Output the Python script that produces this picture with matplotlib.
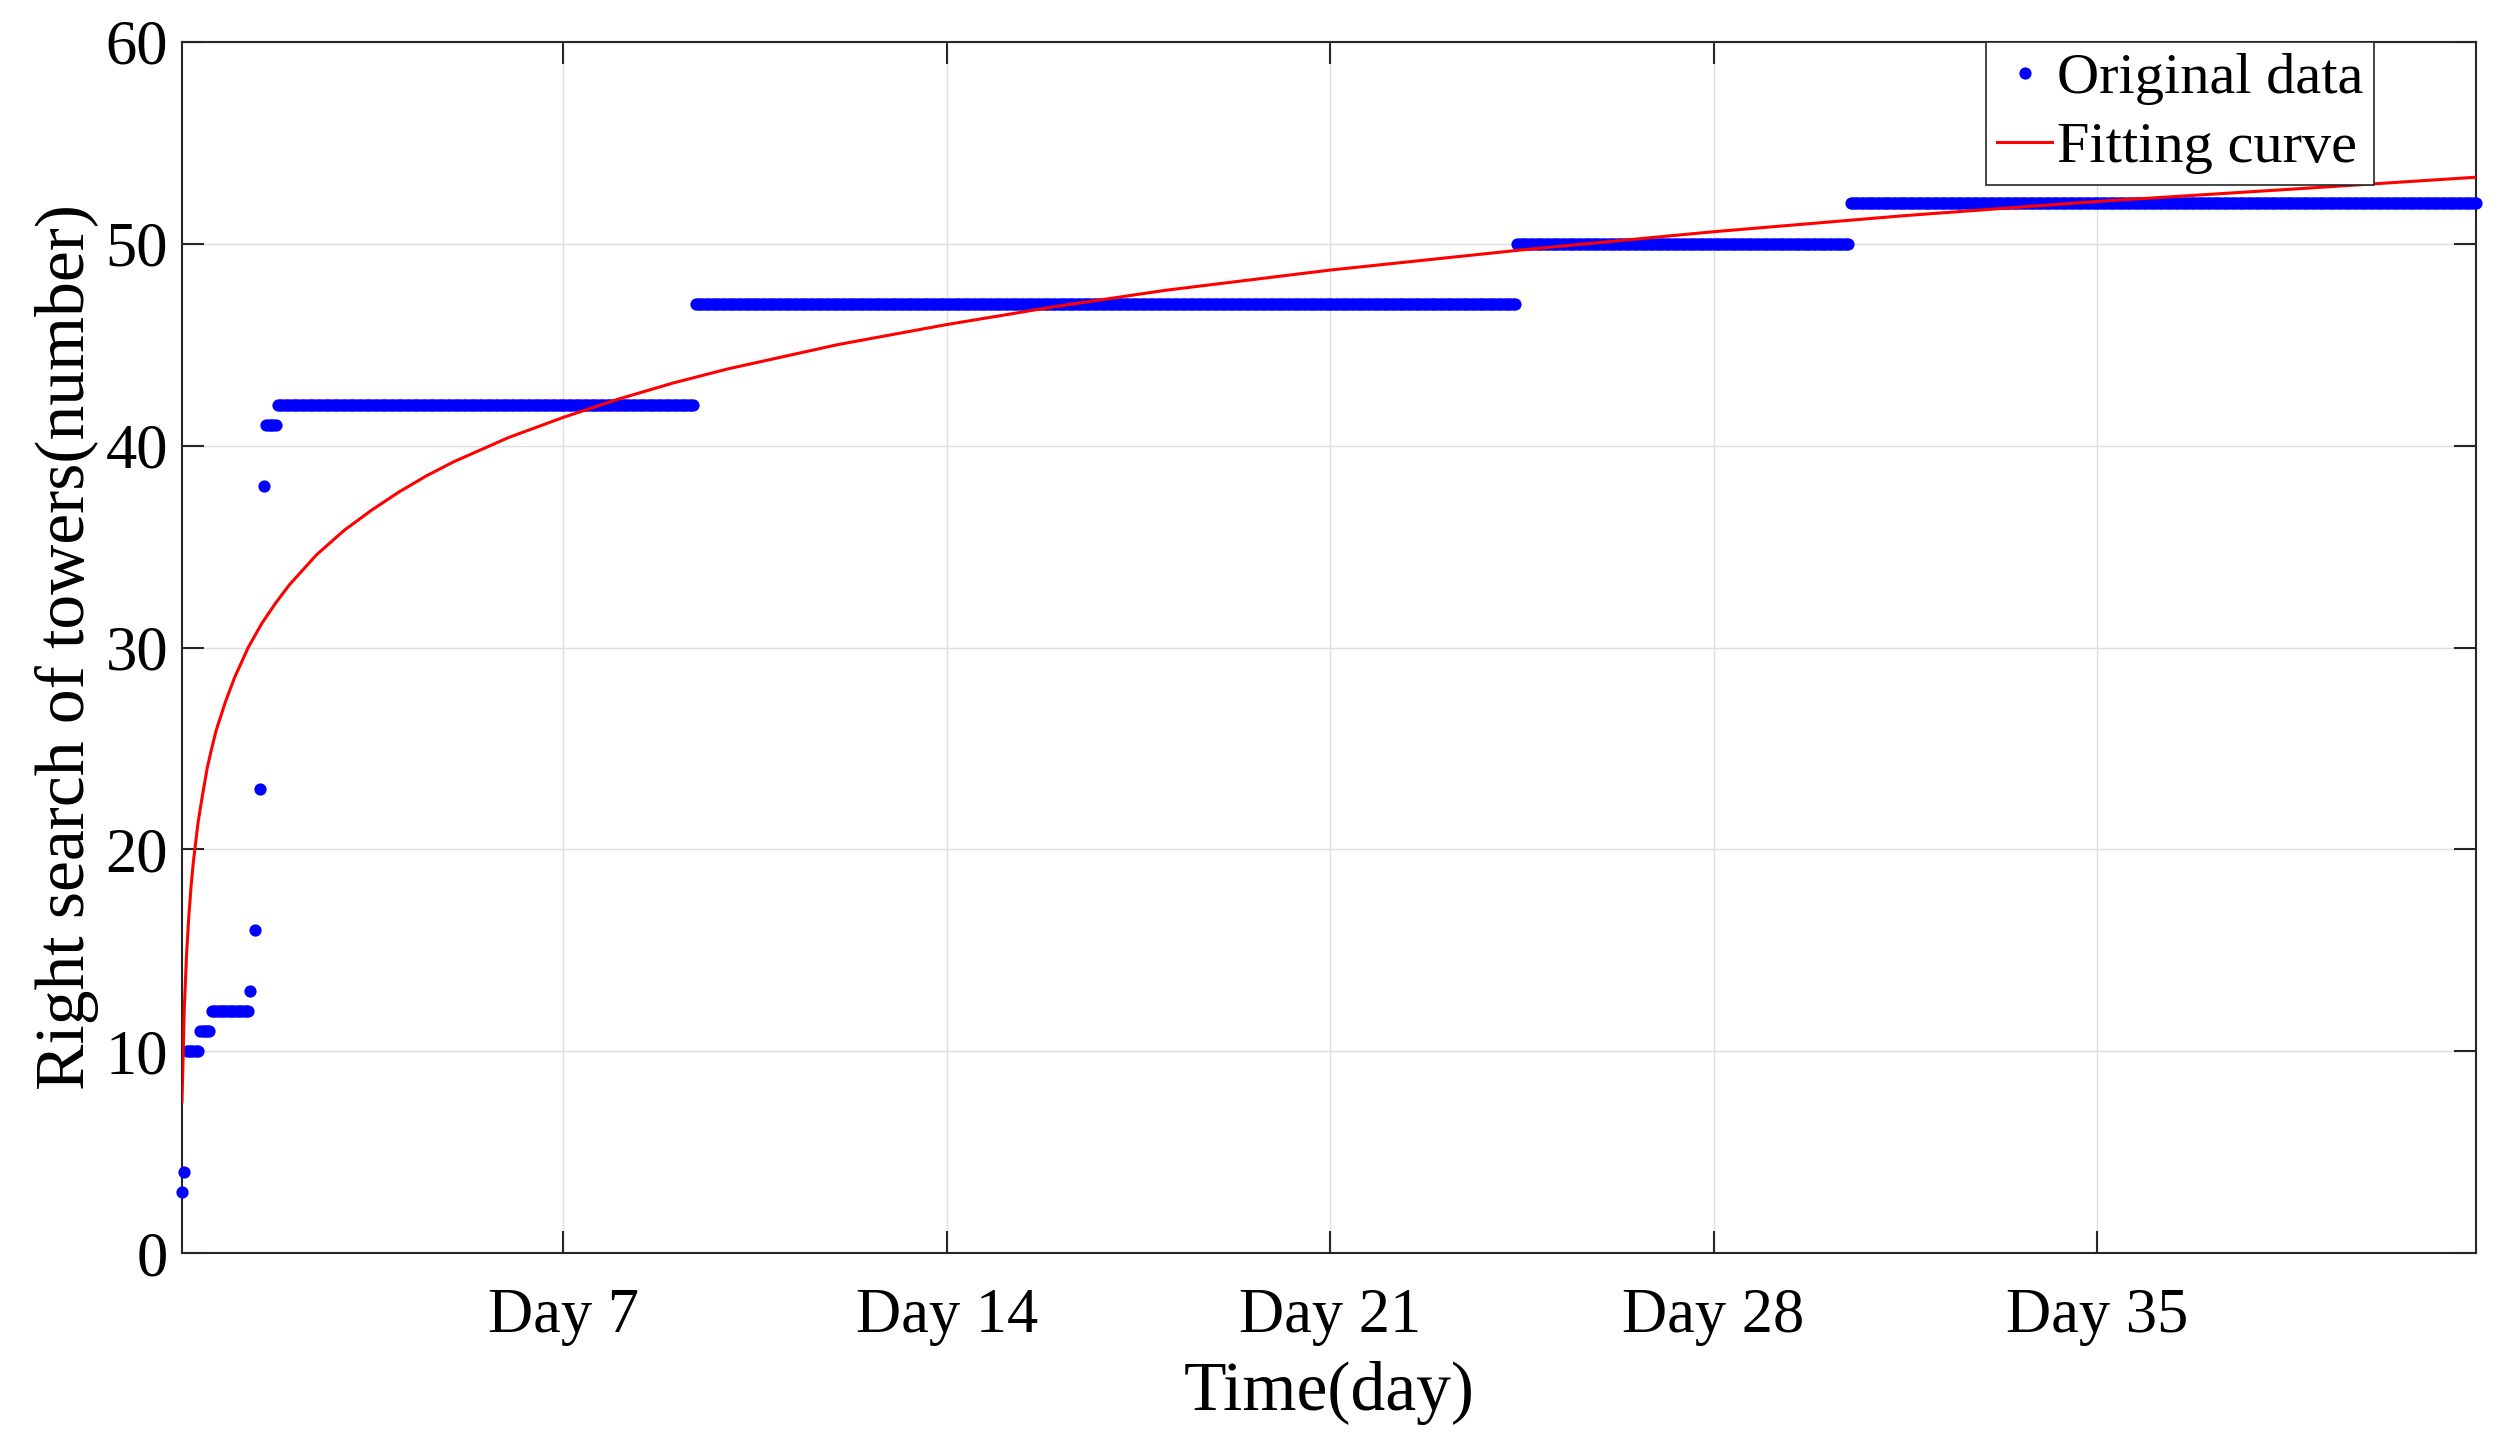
import numpy as np
import matplotlib
matplotlib.use("Agg")
import matplotlib.pyplot as plt

# ---- data (x in hours) ----
early_hours = [1, 2, 31, 33, 35, 37]
early_values = [3, 4, 13, 16, 23, 38]

level_values = [10, 11, 12, 41, 42, 47, 50, 52]
level_start = [3, 9, 14, 38, 43, 226, 586, 732]
level_end = [8, 13, 30, 42, 225, 585, 731, 1006]

fit_hours = [1, 2, 3, 4, 5, 6, 8, 10, 12, 14, 16, 20, 24, 30, 36, 42, 48, 60,
             72, 84, 96, 108, 120, 144, 168, 192, 216, 240, 288, 336, 384, 432,
             504, 588, 672, 756, 840, 924, 1006]
fit_values = [7.5, 12.1, 14.8, 16.7, 18.2, 19.4, 21.3, 22.7, 24.0, 25.0, 25.9,
              27.3, 28.5, 30.0, 31.2, 32.2, 33.1, 34.6, 35.8, 36.8, 37.7, 38.5,
              39.2, 40.4, 41.4, 42.3, 43.1, 43.8, 45.0, 46.0, 46.9, 47.7, 48.7,
              49.7, 50.6, 51.4, 52.1, 52.7, 53.3]

tick_hours = [168, 336, 504, 672, 840]
tick_labels = ["Day 7", "Day 14", "Day 21", "Day 28", "Day 35"]
y_ticks = [0, 10, 20, 30, 40, 50, 60]

# hourly readings
hx = list(early_hours)
hy = list(early_values)
for v, s, e in zip(level_values, level_start, level_end):
    for h in range(s, e + 1):
        hx.append(h)
        hy.append(v)
order = np.argsort(hx)
hx = np.array(hx)[order]
hy = np.array(hy)[order]

plt.rcParams['font.family'] = ['Liberation Serif', 'DejaVu Serif']

fig = plt.figure(figsize=(25.1, 14.4), dpi=100)
ax = fig.add_axes([182 / 2510, 1 - 1253 / 1440, (2476 - 182) / 2510, (1253 - 42) / 1440])

ax.plot(hx, hy, linestyle='none', marker='o', markersize=8.8, color='#0000ff',
        markeredgewidth=0, clip_on=False, label='Original data', zorder=3)
ax.plot(fit_hours, fit_values, color='#ff0000', linewidth=2.2,
        solid_joinstyle='round', label='Fitting curve', zorder=4)

ax.set_xlim(1, 1006)
ax.set_ylim(0, 60)
ax.set_xticks(tick_hours)
ax.set_xticklabels(tick_labels)
ax.set_yticks(y_ticks)

ax.grid(True, color='#dedede', linewidth=1.0)
ax.set_axisbelow(True)

for sp in ax.spines.values():
    sp.set_linewidth(1.5)
    sp.set_color('#262626')

ax.tick_params(axis='both', direction='in', length=16, width=1.5, color='#262626',
               labelsize=45, top=True, right=True)
ax.tick_params(axis='x', pad=25)
ax.tick_params(axis='y', pad=10)

ax.set_xlabel('Time(day)', fontsize=50, labelpad=11)
ax.set_ylabel('Right search of towers(number)', fontsize=50, labelpad=5)

leg = ax.legend(loc='upper right', bbox_to_anchor=(0.9555, 1.0), fontsize=42,
                frameon=True, fancybox=False, shadow=False, numpoints=1,
                handlelength=0.95, handletextpad=0.08, borderpad=0.18,
                labelspacing=0.28, borderaxespad=0)
leg.get_frame().set_edgecolor('#262626')
leg.get_frame().set_linewidth(1.2)
leg.get_frame().set_alpha(1.0)

fig.savefig('out.png', dpi=100)
